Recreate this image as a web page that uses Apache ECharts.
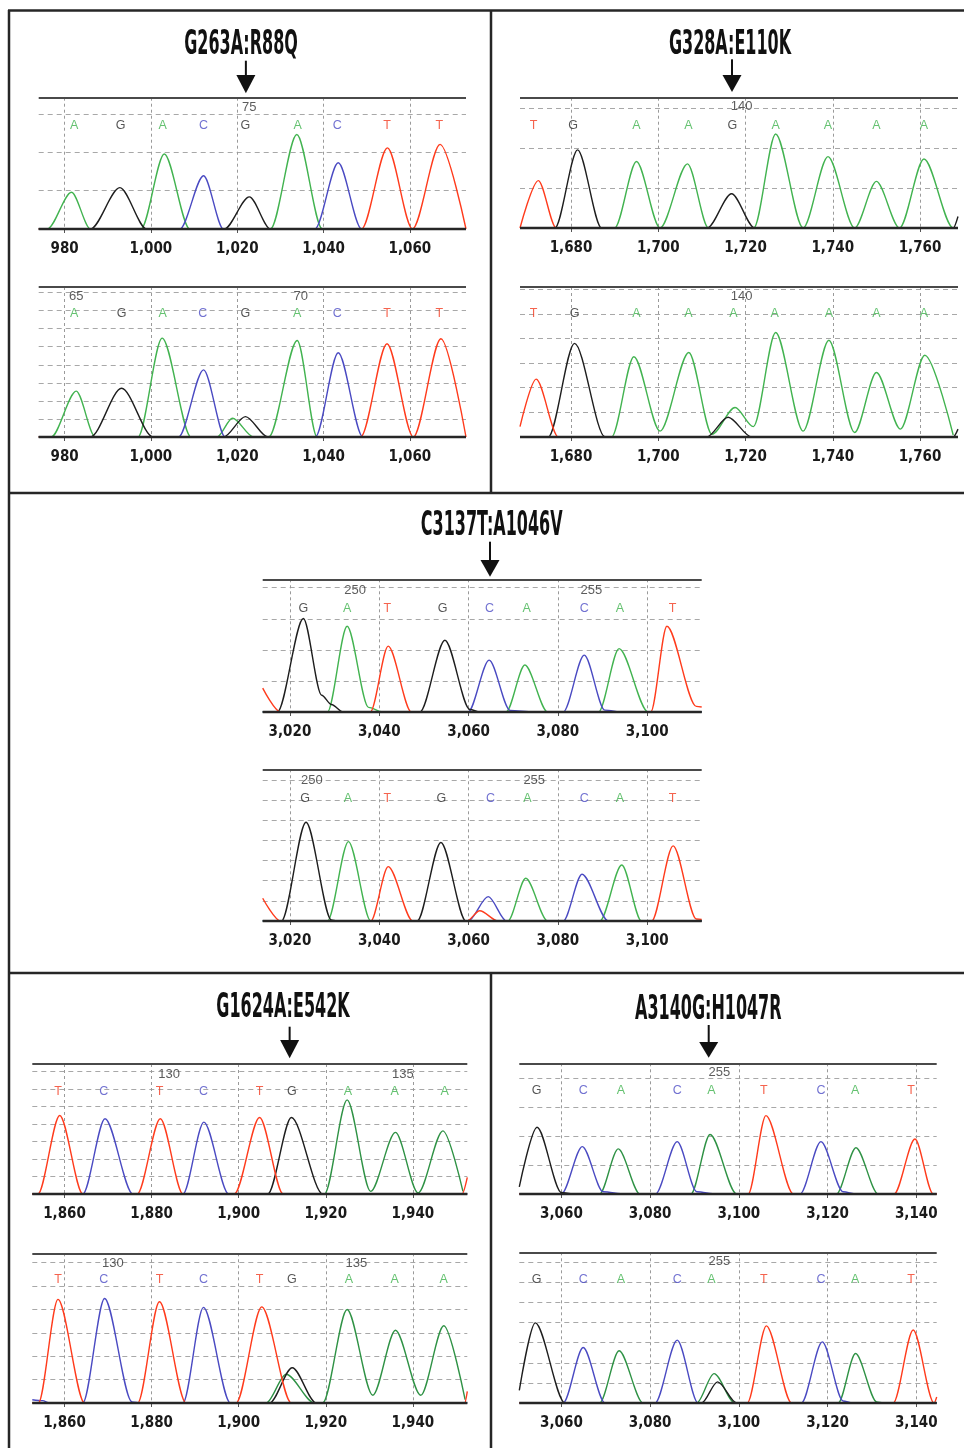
<!DOCTYPE html>
<html>
<head>
<meta charset="utf-8">
<script src="https://cdn.jsdelivr.net/npm/echarts@6/dist/echarts.min.js"></script>
<style>
html,body{margin:0;padding:0;background:#fff;}
#chart{width:964px;height:1448px;}
</style>
</head>
<body>
<div id="chart"></div>
<script>
// ---------------- DATA ----------------
// Titles and the position (in scan units) the arrow points to
const titles = ['G263A:R88Q', 'G328A:E110K', 'C3137T:A1046V', 'G1624A:E542K', 'A3140G:H1047R'];
const arrowAt = [1022, 1716.9, 3064.8, 1911.7, 3093.2];

// x ranges of each panel (scan units)
const xRanges = [[974, 1073], [1668.3, 1768.7], [3013.9, 3112.2], [1852.6, 1952.5], [3050.5, 3144.6]];
// y maxima (top line) for top / bottom traces
const yMaxTop = [3.43, 3.27, 4.27, 7.43, 4.52];
const yMaxBot = [8.31, 6.09, 7.53, 6.4, 7.5];

// ---- Panel 1 : G263A:R88Q ----
const p1tA = [[976,0],[981.6,0.96],[986,0],[997.7,0],[1003.1,1.96],[1009,0],[1027.7,0],[1033.8,2.47],[1039.7,0]];
const p1tC = [[1006.7,0],[1012.2,1.39],[1016.8,0],[1038,0],[1043.4,1.73],[1048.8,0]];
const p1tG = [[986,0],[992.8,1.08],[999,0],[1017,0],[1022.8,0.84],[1027.7,0]];
const p1tT = [[1048.8,0],[1054.8,2.12],[1060.6,0],[1067,2.21],[1073,0]];
const p1tBases = 'AGACGACTT';
const p1tBasePos = [982.2, 993, 1002.7, 1012.2, 1021.9, 1034, 1043.2, 1054.7, 1066.8];
const p1tNums = [[1022.8, '75']];

const p1bA = [[976.9,0],[982.7,2.54],[987.1,0],[997,0],[1002.6,5.48],[1009.3,0],[1015.3,0],[1018.9,1.04],[1023.8,0],[1027.3,0],[1033.9,5.35],[1038.5,0]];
const p1bC = [[1006.4,0],[1012.2,3.72],[1017.2,0],[1038.1,0],[1043.4,4.67],[1049.1,0]];
const p1bG = [[986,0],[993.2,2.7],[1000.5,0],[1016.8,0],[1021.9,1.13],[1027.1,0]];
const p1bT = [[1048.6,0],[1054.7,5.17],[1060.8,0],[1067.2,5.44],[1073,0]];
const p1bBases = 'AGACGACTT';
const p1bBasePos = [982.2, 993.2, 1002.7, 1012, 1021.9, 1033.9, 1043.2, 1054.7, 1066.8];
const p1bNums = [[982.7, '65'], [1034.7, '70']];

// ---- Panel 2 : G328A:E110K ----
const p2tA = [[1690,0],[1695,1.67],[1700.4,0],[1706.7,1.61],[1711.5,0],[1721.9,0],[1726.9,2.36],[1733.2,0],[1738.9,1.79],[1745,0],[1750,1.17],[1755.3,0],[1760.9,1.73],[1767.6,0]];
const p2tC = [];
const p2tG = [[1676.3,0],[1681.5,1.96],[1687,0],[1711.2,0],[1716.8,0.86],[1722.1,0],[1767.6,0],[1768.7,0.29]];
const p2tT = [[1668.3,0],[1672.5,1.19],[1676.6,0]];
const p2tBases = 'TGAAGAAAA';
const p2tBasePos = [1671.4, 1680.5, 1695, 1706.9, 1717, 1726.9, 1738.9, 1750, 1760.9];
const p2tNums = [[1719.1, '140']];

const p2bA = [[1689.3,0],[1694.4,3.26],[1700.4,0.24],[1707,3.43],[1712.3,0.11],[1717.6,1.2],[1721.8,0.42],[1726.9,4.24],[1733.2,0.24],[1739.1,3.93],[1745,0.18],[1750,2.62],[1755.5,0.32],[1761.1,3.32],[1767.6,0.08]];
const p2bC = [];
const p2bG = [[1674.8,0],[1680.8,3.8],[1687.8,0],[1711.1,0],[1716,0.8],[1721.4,0],[1767.6,0],[1768.7,0.32]];
const p2bT = [[1668.3,0.42],[1672,2.35],[1677.1,0]];
const p2bBases = 'TGAAAAAAA';
const p2bBasePos = [1671.4, 1680.8, 1695, 1706.9, 1717.2, 1726.7, 1739.1, 1750, 1760.9];
const p2bNums = [[1719.1, '140']];

// ---- Panel 3 : C3137T:A1046V ----
const p3tA = [[3028.4,0],[3032.8,2.76],[3037.6,0.15],[3040.7,0],[3068.4,0],[3072.6,1.51],[3077.7,0],[3089.1,0],[3093.7,2.04],[3100.2,0]];
const p3tC = [[3059.9,0],[3064.6,1.67],[3069.3,0.05],[3074.5,0],[3081.2,0],[3085.9,1.83],[3090.5,0.06],[3094.6,0]];
const p3tG = [[3017.2,0],[3023,3.01],[3027.1,0.54],[3029.3,0.24],[3031.9,0],[3049.1,0],[3054.7,2.31],[3060.3,0.08],[3062.5,0]];
const p3tT = [[3013.9,0.77],[3017.9,0],[3038,0],[3042,2.12],[3047.2,0],[3100.8,0],[3104.4,2.76],[3111,0.18],[3112.2,0.16]];
const p3tBases = 'GATGCACAT';
const p3tBasePos = [3023, 3032.8, 3041.8, 3054.2, 3064.7, 3073, 3085.9, 3093.9, 3105.7];
const p3tNums = [[3034.6, '250'], [3087.5, '255']];

const p3bA = [[3028.4,0],[3033.1,3.94],[3038.1,0],[3068.8,0],[3072.8,2.12],[3077.7,0],[3089.4,0],[3094.3,2.78],[3098.7,0]];
const p3bC = [[3059.9,0],[3064.4,1.21],[3068.5,0],[3081.2,0],[3085.4,2.32],[3091.3,0]];
const p3bG = [[3018.1,0],[3023.6,4.9],[3029.3,0.05],[3030.4,0],[3048.5,0],[3053.8,3.9],[3059.4,0]];
const p3bT = [[3013.9,1.13],[3017.9,0],[3038.1,0],[3042,2.7],[3047.5,0],[3059.6,0],[3062.5,0.51],[3066.6,0],[3101,0],[3105.8,3.73],[3111,0.1],[3112.2,0.08]];
const p3bBases = 'GATGCACAT';
const p3bBasePos = [3023.4, 3033, 3041.8, 3053.9, 3064.9, 3073.2, 3085.9, 3093.9, 3105.7];
const p3bNums = [[3024.9, '250'], [3074.7, '255']];

// ---- Panel 4 : G1624A:E542K ----
const p4tA = [[1919.7,0],[1924.9,5.38],[1930.3,0.15],[1936,3.52],[1941.2,0.06],[1946.9,3.61],[1951.5,0.15]];
const p4tC = [[1864.2,0],[1869.3,4.3],[1875.7,0],[1887.2,0],[1892,4.11],[1897.7,0]];
const p4tG = [[1906.7,0],[1912.1,4.37],[1919.3,0]];
const p4tT = [[1853.9,0],[1858.9,4.49],[1864.2,0],[1876.7,0],[1882,4.3],[1887.2,0],[1899,0],[1904.8,4.37],[1910.2,0],[1951.3,0],[1952.5,0.95]];
const p4tBases = 'TCTCTGAAA';
const p4tBasePos = [1858.5, 1869, 1881.8, 1891.9, 1904.8, 1912.2, 1925.1, 1935.8, 1947.3];
const p4tNums = [[1884, '130'], [1937.7, '135']];

const p4bA = [[1906.3,0],[1910.9,1.23],[1917.4,0],[1919.3,0],[1924.9,4.0],[1930.8,0.33],[1936,3.11],[1941.8,0.33],[1947.1,3.3],[1952,0.14]];
const p4bC = [[1852.6,0.14],[1855,0.1],[1856.5,0],[1864.2,0],[1869.2,4.47],[1875.5,0.05],[1877.6,0],[1887.2,0],[1891.9,4.09],[1898.1,0]];
const p4bG = [[1907.1,0],[1912.3,1.51],[1917.8,0]];
const p4bT = [[1854,0],[1858.5,4.43],[1864.6,0],[1876.8,0],[1881.8,4.33],[1887.9,0],[1899.4,0],[1905.3,4.11],[1912.1,0],[1951.9,0],[1952.5,0.5]];
const p4bBases = 'TCTCTGAAA';
const p4bBasePos = [1858.5, 1869, 1881.8, 1891.9, 1904.8, 1912.2, 1925.3, 1935.8, 1947.1];
const p4bNums = [[1871.1, '130'], [1927, '135']];

// ---- Panel 5 : A3140G:H1047R ----
const p5tA = [[3068.6,0],[3072.8,1.56],[3077.7,0],[3089.2,0],[3093.5,2.06],[3099.5,0],[3122,0],[3126.4,1.6],[3131.4,0]];
const p5tC = [[3060,0],[3064.7,1.64],[3069.4,0.08],[3074.3,0],[3081.2,0],[3086.1,1.81],[3090.5,0.08],[3095,0],[3113.8,0],[3118.5,1.81],[3123.5,0.08],[3126.5,0]];
const p5tG = [[3050.5,0.25],[3054.5,2.31],[3060,0.05],[3062.6,0]];
const p5tT = [[3102.1,0],[3106.1,2.71],[3112.3,0],[3135,0],[3139.7,1.9],[3143.8,0]];
const p5tBases = 'GCACATCAT';
const p5tBasePos = [3054.4, 3064.9, 3073.4, 3086.1, 3093.8, 3105.6, 3118.5, 3126.2, 3138.8];
const p5tNums = [[3095.6, '255']];

const p5bA = [[3068.6,0],[3073,2.6],[3078.4,0],[3090.5,0],[3094.4,1.46],[3099.1,0],[3122.4,0],[3126.3,2.46],[3131.1,0.05],[3132.5,0]];
const p5bC = [[3060.4,0],[3064.9,2.76],[3069.8,0],[3081.1,0],[3086.1,3.13],[3090.8,0],[3114.1,0],[3118.8,3.04],[3123.5,0.1],[3125.6,0]];
const p5bG = [[3050.5,0.63],[3054.1,3.99],[3060.8,0],[3091.6,0],[3095.2,1.05],[3099.5,0]];
const p5bT = [[3101.9,0],[3106.2,3.84],[3111.9,0],[3134.8,0],[3139.3,3.63],[3144,0],[3144.6,0.3]];
const p5bBases = 'GCACATCAT';
const p5bBasePos = [3054.4, 3064.9, 3073.4, 3086.1, 3093.8, 3105.6, 3118.5, 3126.2, 3138.8];
const p5bNums = [[3095.6, '255']];

// heights (in gridline units) of the base-call row and of the position-number row
const baseRowTop = [2.71, 2.58, 3.33, 5.86, 3.57];
const numRowTop  = [3.17, 3.04, 3.92, 6.86, 4.2];
const baseRowBot = [6.83, 5.0, 6.06, 5.26, 6.12];
const numRowBot  = [7.81, 5.69, 6.97, 5.97, 7.04];

// ---------------- LAYOUT / STYLE ----------------
const gridsPx = [
  {left:38.7, top:97.7, width:427.3, height:131.3},
  {left:38.7, top:287, width:427.3, height:150},
  {left:520, top:97.7, width:438, height:130.3},
  {left:520, top:287, width:438, height:150},
  {left:262.7, top:579.3, width:439, height:132.7},
  {left:262.7, top:769.3, width:439, height:151.7},
  {left:32.3, top:1064, width:435, height:130},
  {left:32.3, top:1253.3, width:435, height:149.7},
  {left:519.3, top:1063.3, width:417.4, height:130.7},
  {left:519.3, top:1252.3, width:417.4, height:150.7}
];
const titlePx = [[241,45],[730,45],[491.7,526.7],[283,1008.3],[708.3,1010]];
const arrowYs = [[60.7,75,93.3],[59.3,75,92],[541.7,560,576.7],[1026.7,1040,1058.3],[1025,1042,1057.7]];

const NARROW = "'DejaVu Sans Condensed','Liberation Sans Narrow',sans-serif";
const SANS = "'Liberation Sans','DejaVu Sans',Arial,sans-serif";
const LABEL_COL = {A:'#3fb34e', C:'#4e4ec6', G:'#2a2a2a', T:'#f23c22'};
const GREEN_LIGHT = '#42b350', GREEN_DARK = '#2f9245';

const traceSets = [
  [p1tA,p1tC,p1tG,p1tT,p1tBases,p1tBasePos,p1tNums],
  [p1bA,p1bC,p1bG,p1bT,p1bBases,p1bBasePos,p1bNums],
  [p2tA,p2tC,p2tG,p2tT,p2tBases,p2tBasePos,p2tNums],
  [p2bA,p2bC,p2bG,p2bT,p2bBases,p2bBasePos,p2bNums],
  [p3tA,p3tC,p3tG,p3tT,p3tBases,p3tBasePos,p3tNums],
  [p3bA,p3bC,p3bG,p3bT,p3bBases,p3bBasePos,p3bNums],
  [p4tA,p4tC,p4tG,p4tT,p4tBases,p4tBasePos,p4tNums],
  [p4bA,p4bC,p4bG,p4bT,p4bBases,p4bBasePos,p4bNums],
  [p5tA,p5tC,p5tG,p5tT,p5tBases,p5tBasePos,p5tNums],
  [p5bA,p5bC,p5bG,p5bT,p5bBases,p5bBasePos,p5bNums]
];

// trace rests on the baseline at the panel edges when it is not already there
function toLine(arr, range) {
  if (!arr.length) return [];
  const out = arr.slice();
  if (out[0][0] > range[0] && out[0][1] === 0) out.unshift([range[0], 0]);
  const last = out[out.length - 1];
  if (last[0] < range[1] && last[1] === 0) out.push([range[1], 0]);
  return out;
}

const grids = [], xAxes = [], yAxes = [], series = [];
traceSets.forEach((set, i) => {
  const panel = Math.floor(i / 2);
  const isTop = i % 2 === 0;
  const ymax = isTop ? yMaxTop[panel] : yMaxBot[panel];
  const baseY = isTop ? baseRowTop[panel] : baseRowBot[panel];
  const numY = isTop ? numRowTop[panel] : numRowBot[panel];
  const [A, C, G, T, bases, basePos, nums] = set;
  grids.push(Object.assign({containLabel:false}, gridsPx[i]));
  xAxes.push({
    gridIndex:i, type:'value', min:xRanges[panel][0], max:xRanges[panel][1],
    splitNumber:5, minInterval:20, maxInterval:20,
    axisLine:{show:false, onZero:false},
    axisTick:{show:true, length:4, lineStyle:{color:'#555'}},
    axisLabel:{show:true, showMinLabel:false, showMaxLabel:false, margin:13,
      fontFamily:NARROW, fontWeight:'bold', fontSize:15, color:'#1a1a1a',
      formatter: v => Number(v).toLocaleString('en-US')},
    splitLine:{show:true, showMinLine:false, showMaxLine:false, lineStyle:{type:[3,3], color:'#9a9a9a', width:1}}
  });
  yAxes.push({
    gridIndex:i, type:'value', min:0, max:ymax, interval:1,
    axisLine:{show:false}, axisTick:{show:false}, axisLabel:{show:false},
    splitLine:{show:true, showMinLine:false, showMaxLine:false, lineStyle:{type:[5,4], color:'#a8a8a8', width:1}}
  });
  const green = panel >= 3 ? GREEN_DARK : GREEN_LIGHT;
  const cols = [green, '#4a4ac2', '#1e1e1e', '#ff3b1c'];
  [A, C, G, T].forEach((tr, k) => {
    series.push({
      type:'line', xAxisIndex:i, yAxisIndex:i, data:toLine(tr, xRanges[panel]),
      smooth:0.3, smoothMonotone:'x', showSymbol:false, symbol:'none',
      silent:true, animation:false,
      lineStyle:{color:cols[k], width:1.4}, z:3
    });
  });
  series.push({
    type:'scatter', xAxisIndex:i, yAxisIndex:i, symbolSize:1, silent:true, animation:false, z:8,
    itemStyle:{color:'rgba(0,0,0,0)'},
    label:{show:true, position:'inside', formatter:'{b}', fontFamily:SANS, fontSize:12.5},
    data: basePos.map((x, j) => ({name:bases[j], value:[x, baseY], label:{color:LABEL_COL[bases[j]]}})),
    markLine:{silent:true, symbol:'none', animation:false, label:{show:false},
      data:[
        {yAxis:0, lineStyle:{color:'#262626', width:2.4, type:'solid'}},
        {yAxis:ymax, lineStyle:{color:'#4a4a4a', width:2, type:'solid'}}
      ]}
  });
  series.push({
    type:'scatter', xAxisIndex:i, yAxisIndex:i, symbolSize:1, silent:true, animation:false, z:8,
    itemStyle:{color:'rgba(0,0,0,0)'},
    label:{show:true, position:'inside', formatter:'{b}', fontFamily:SANS, fontSize:13, color:'#333'},
    data: nums.map(n => ({name:n[1], value:[n[0], numY]}))
  });
});

const chart = echarts.init(document.getElementById('chart'), null, {renderer:'canvas'});
chart.setOption({
  backgroundColor:'#ffffff',
  animation:false,
  grid:grids, xAxis:xAxes, yAxis:yAxes, series:series
});

// borders, titles and arrows
const graphics = [];
const borderStyle = {stroke:'#262626', lineWidth:2.5};
[[8,10.5,964,10.5],[9,10,9,1448],[491,10,491,493],[8,493,964,493],[8,973,964,973],[491,973,491,1448]]
  .forEach(b => graphics.push({type:'line', silent:true, shape:{x1:b[0],y1:b[1],x2:b[2],y2:b[3]}, style:borderStyle}));

titles.forEach((t, p) => {
  graphics.push({type:'text', silent:true, x:titlePx[p][0], y:titlePx[p][1], scaleY:1.38, scaleX:0.74,
    style:{text:t, x:0, y:0, align:'center', verticalAlign:'middle', textAlign:'center', textVerticalAlign:'middle',
      font:'bold 24px ' + NARROW, fill:'#111'}});
  const ax = chart.convertToPixel({xAxisIndex: p * 2}, arrowAt[p]);
  const [y1, y2, y3] = arrowYs[p];
  graphics.push({type:'line', silent:true, shape:{x1:ax,y1:y1,x2:ax,y2:y2+2}, style:{stroke:'#111', lineWidth:2}});
  graphics.push({type:'polygon', silent:true, shape:{points:[[ax-9.5,y2],[ax+9.5,y2],[ax,y3]]}, style:{fill:'#111'}});
});
chart.setOption({graphic:graphics});
</script>
</body>
</html>
